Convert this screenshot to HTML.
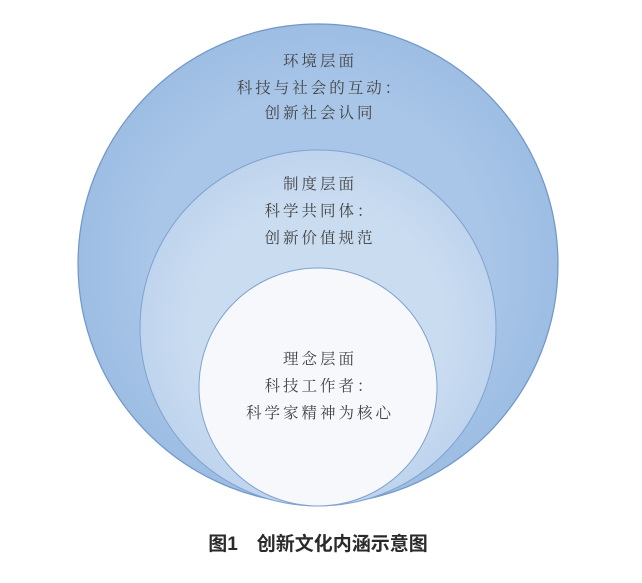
<!DOCTYPE html>
<html><head><meta charset="utf-8"><style>
html,body{margin:0;padding:0;background:#fff;width:642px;height:583px;overflow:hidden}
</style></head><body>
<svg width="642" height="583" viewBox="0 0 642 583" xmlns="http://www.w3.org/2000/svg">
<defs>
<radialGradient id="g1" cx="0.5" cy="0.5" r="0.5"><stop offset="0.7" stop-color="#a9c6e8"/><stop offset="1" stop-color="#9dbde3"/></radialGradient>
<radialGradient id="g2" cx="0.5" cy="0.5" r="0.5"><stop offset="0.7" stop-color="#cadcf0"/><stop offset="1" stop-color="#bfd4ee"/></radialGradient>
</defs>
<circle cx="318" cy="264" r="240" fill="url(#g1)" stroke="#6f97c8" stroke-width="1.2"/>
<circle cx="318" cy="328" r="178" fill="url(#g2)" stroke="#7ea3cf" stroke-width="1"/>
<circle cx="318" cy="387" r="119" fill="#f6f8fc" stroke="#7ea3cf" stroke-width="1"/>
<g font-family="'Noto Serif CJK SC','Noto Sans CJK SC',serif" font-size="15.5" fill="#444" text-anchor="middle" letter-spacing="3">
<text x="320" y="66">环境层面</text>
<text x="320" y="93">科技与社会的互动：</text>
<text x="320" y="118">创新社会认同</text>
<text x="320" y="189">制度层面</text>
<text x="320" y="216">科学共同体：</text>
<text x="320" y="243">创新价值规范</text>
<text x="320" y="364">理念层面</text>
<text x="320" y="391">科技工作者：</text>
<text x="320" y="418">科学家精神为核心</text>
</g>
<text x="318" y="550" font-family="'Liberation Sans','Noto Sans CJK SC',sans-serif" font-size="19" font-weight="bold" fill="#2a2a2a" text-anchor="middle" xml:space="preserve">图1　创新文化内涵示意图</text>
</svg>
</body></html>
